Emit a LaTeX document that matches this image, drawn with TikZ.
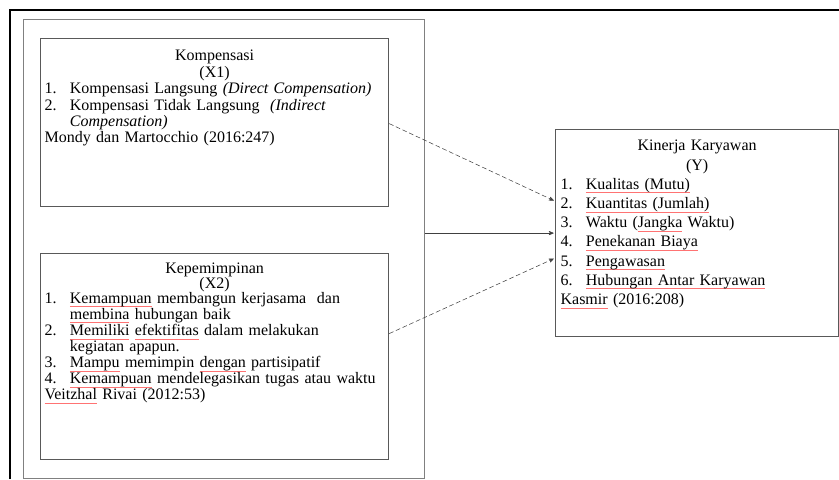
\documentclass[tikz,border=0pt]{standalone}
\usepackage{fontspec}
\setmainfont{Liberation Serif}
\usepackage{tikz}
\usetikzlibrary{arrows,calc,positioning}
% red spelling mark under a word
\newcommand{\salah}[1]{\setbox0\hbox{#1}\leavevmode\rlap{\color{red!55}\rule[-0.5ex]{\wd0}{0.45pt}}\box0\relax}
% numbered line with hanging indent
\newcommand{\butir}[2]{\par\hangindent=19pt\hangafter=1\noindent\makebox[19pt][l]{#1}#2}
\tikzset{
    %Define standard arrow tip
    >=stealth',
    %Define style for boxes
    kotak/.style={
           rectangle,
           draw=black!65, line width=0.9pt,
           inner sep=0pt},
    bingkai/.style={
           rectangle,
           draw=black!50, line width=0.9pt,
           inner sep=0pt},
    isi/.style={
           inner sep=0pt,
           anchor=north,
           align=left,
           font=\fontsize{12}{12.3}\selectfont},
    % Define arrow style
    pil/.style={
           ->,
           thin, draw=black!75,
           dash pattern=on 3.5pt off 2pt,
           shorten >=1pt},
    panah/.style={
           ->,
           thin, draw=black!75,
           shorten >=1pt}
}
\begin{document}
\begin{tikzpicture}[x=0.75pt,y=-0.75pt]
\useasboundingbox (0,0) rectangle (839,479);
 %frames
\draw[line width=1.6pt] (10,479) -- (10,10) -- (839,10);
\node[bingkai, anchor=north west, minimum width=300.75pt, minimum height=344.25pt] (grup) at (23,19) {};

 %boxes
\node[kotak, anchor=north west, minimum width=261pt, minimum height=126pt] (komp) at (40,38) {};
\node[kotak, anchor=north west, minimum width=261pt, minimum height=154.5pt] (pemimpin) at (40,253) {};
\node[kotak, anchor=north west, minimum width=212.25pt, minimum height=155.25pt] (kinerja) at (555,129) {};

 %texts
\node[isi, text width=255pt] (kompteks) at ($(komp.north)+(0,12)$) {%
  {\centering Kompensasi\\(X1)\par}
  \butir{1.}{Kompensasi Langsung \textit{(Direct Compensation)}}
  \butir{2.}{Kompensasi Tidak Langsung \ \textit{(Indirect}\newline\textit{Compensation)}}
  \par\noindent Mondy dan Martocchio (2016:247)};
\node[isi, text width=255pt, font=\fontsize{12}{11}\selectfont] (pemimpinteks) at ($(pemimpin.north)+(0,10)$) {%
  {\centering Kepemimpinan\\(X2)\par}
  \butir{1.}{\salah{Kemampuan} membangun kerjasama \ dan\newline \salah{membina} hubungan baik}
  \butir{2.}{\salah{Memiliki} \salah{efektifitas} dalam melakukan\newline kegiatan apapun.}
  \butir{3.}{\salah{Mampu} memimpin \salah{dengan} partisipatif}
  \butir{4.}{\salah{Kemampuan} mendelegasikan tugas atau waktu}
  \par\noindent\salah{Veitzhal} Rivai (2012:53)};
\node[isi, text width=204.75pt, font=\fontsize{12}{14.4}\selectfont] (kinerjateks) at ($(kinerja.north)+(0,11)$) {%
  {\centering Kinerja Karyawan\\(Y)\par}
  \butir{1.}{\salah{Kualitas (Mutu)}}
  \butir{2.}{\salah{Kuantitas (Jumlah)}}
  \butir{3.}{Waktu (\salah{Jangka} Waktu)}
  \butir{4.}{\salah{Penekanan Biaya}}
  \butir{5.}{\salah{Pengawasan}}
  \butir{6.}{\salah{Hubungan Antar Karyawan}}
  \par\noindent\salah{Kasmir} (2016:208)};

 %arrows
\draw[pil] ($(komp.east)+(0,1)$) -- ($(kinerja.west)+(0,-32)$);
\draw[pil] ($(pemimpin.east)+(0,-23)$) -- ($(kinerja.west)+(0,25)$);
\draw[panah] (grup.east |- kinerja.west) -- (kinerja.west);
\end{tikzpicture}
\end{document}
